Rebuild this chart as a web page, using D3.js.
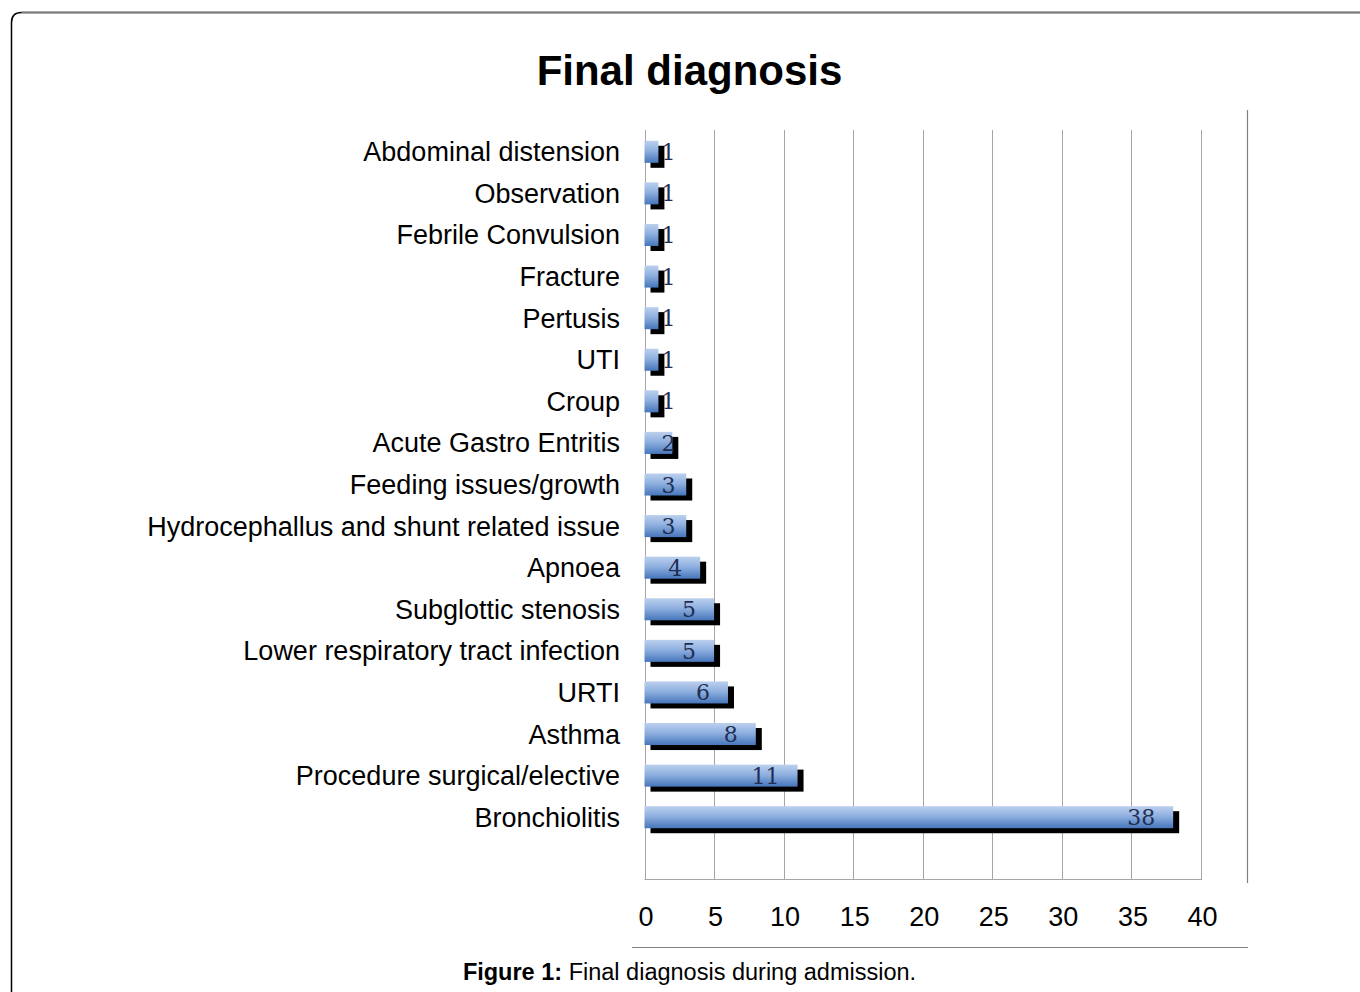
<!DOCTYPE html>
<html>
<head>
<meta charset="utf-8">
<script src="https://cdn.jsdelivr.net/npm/d3@7"></script>
<style>
  html, body { margin: 0; padding: 0; background: #fff; }
  svg { display: block; }
</style>
</head>
<body>
<svg id="chart" width="1360" height="992"></svg>
<script>
const categories = [
  "Abdominal distension",
  "Observation",
  "Febrile Convulsion",
  "Fracture",
  "Pertusis",
  "UTI",
  "Croup",
  "Acute Gastro Entritis",
  "Feeding issues/growth",
  "Hydrocephallus and shunt related issue",
  "Apnoea",
  "Subglottic stenosis",
  "Lower respiratory tract infection",
  "URTI",
  "Asthma",
  "Procedure surgical/elective",
  "Bronchiolitis"
];
const values = [1, 1, 1, 1, 1, 1, 1, 2, 3, 3, 4, 5, 5, 6, 8, 11, 38];
const xTicks = [0, 5, 10, 15, 20, 25, 30, 35, 40];
const titleText = "Final diagnosis";
const captionBold = "Figure 1:";
const captionText = " Final diagnosis during admission.";

const data = categories.map((c, i) => ({ cat: c, val: values[i] }));

const svg = d3.select("#chart");

// Frame (rounded corner top-left)
svg.append("path")
  .attr("d", "M11.5,992 L11.5,22.5 Q11.5,12.5 21.5,12.5 L1360,12.5")
  .attr("fill", "none").attr("stroke", "#000").attr("stroke-width", 1.5);
svg.append("path")
  .attr("d", "M21.5,12.5 L1360,12.5")
  .attr("fill", "none").attr("stroke", "#777").attr("stroke-width", 1.5);

// Gradient
const defs = svg.append("defs");
const grad = defs.append("linearGradient").attr("id", "barGrad")
  .attr("x1", 0).attr("y1", 0).attr("x2", 0).attr("y2", 1);
grad.append("stop").attr("offset", "0%").attr("stop-color", "#bcd0ee");
grad.append("stop").attr("offset", "45%").attr("stop-color", "#8fb0e0");
grad.append("stop").attr("offset", "100%").attr("stop-color", "#4676bb");

// Scales
const x = d3.scaleLinear().domain([0, 40]).range([644.5, 1201]);
const y = d3.scaleBand().domain(categories).range([131, 838])
  .paddingInner(0.47).paddingOuter(0.235);

const gridTop = 130, gridBottom = 879;

// Gridlines
svg.append("g").selectAll("line").data(xTicks).join("line")
  .attr("x1", d => Math.round(x(d)) + 0.5).attr("x2", d => Math.round(x(d)) + 0.5)
  .attr("y1", gridTop).attr("y2", gridBottom)
  .attr("stroke", "#a6a6a6").attr("stroke-width", 1);
svg.append("line")
  .attr("x1", x(0)).attr("x2", Math.round(x(40)) + 1)
  .attr("y1", gridBottom + 0.5).attr("y2", gridBottom + 0.5)
  .attr("stroke", "#a6a6a6").attr("stroke-width", 1);

// Outer decorative lines
svg.append("line").attr("x1", 1247.5).attr("x2", 1247.5).attr("y1", 110).attr("y2", 883)
  .attr("stroke", "#808080").attr("stroke-width", 1.2);
svg.append("line").attr("x1", 632).attr("x2", 1248).attr("y1", 947.5).attr("y2", 947.5)
  .attr("stroke", "#808080").attr("stroke-width", 1.2);

// Bars: shadows then bars
const barG = svg.append("g");
barG.selectAll("rect.shadow").data(data).join("rect").attr("class", "shadow")
  .attr("x", x(0) + 6).attr("y", d => y(d.cat) + 5)
  .attr("width", d => x(d.val) - x(0)).attr("height", y.bandwidth())
  .attr("fill", "#000");
barG.selectAll("rect.bar").data(data).join("rect").attr("class", "bar")
  .attr("x", x(0)).attr("y", d => y(d.cat))
  .attr("width", d => x(d.val) - x(0)).attr("height", y.bandwidth())
  .attr("fill", "url(#barGrad)");

// Value labels
barG.selectAll("text.val").data(data).join("text").attr("class", "val")
  .attr("x", d => Math.max(x(d.val) - 18, x(0) + 31))
  .attr("y", d => y(d.cat) + y.bandwidth() / 2 + 8)
  .attr("text-anchor", "end")
  .attr("font-family", "'DejaVu Serif', 'Liberation Serif', serif")
  .attr("font-size", 22).attr("fill", "#1f2f55")
  .text(d => d.val);

// Category labels
svg.append("g").selectAll("text").data(categories).join("text")
  .attr("x", 620).attr("y", d => y(d) + y.bandwidth() / 2 + 9.5)
  .attr("text-anchor", "end")
  .attr("font-family", "'Liberation Sans', Arial, sans-serif")
  .attr("font-size", 27).attr("fill", "#000")
  .text(d => d);

// X tick labels
svg.append("g").selectAll("text").data(xTicks).join("text")
  .attr("x", d => x(d) + 1.5).attr("y", 926)
  .attr("text-anchor", "middle")
  .attr("font-family", "'Liberation Sans', Arial, sans-serif")
  .attr("font-size", 27).attr("fill", "#000")
  .text(d => d);

// Title
svg.append("text").attr("x", 689.5).attr("y", 85)
  .attr("text-anchor", "middle")
  .attr("font-family", "'Liberation Sans', Arial, sans-serif")
  .attr("font-weight", "bold").attr("font-size", 42).attr("fill", "#000")
  .text(titleText);

// Caption
const cap = svg.append("text").attr("x", 689.5).attr("y", 980)
  .attr("text-anchor", "middle")
  .attr("font-family", "'Liberation Sans', Arial, sans-serif")
  .attr("font-size", 23.5).attr("fill", "#000");
cap.append("tspan").attr("font-weight", "bold").text(captionBold);
cap.append("tspan").text(captionText);
</script>
</body>
</html>
